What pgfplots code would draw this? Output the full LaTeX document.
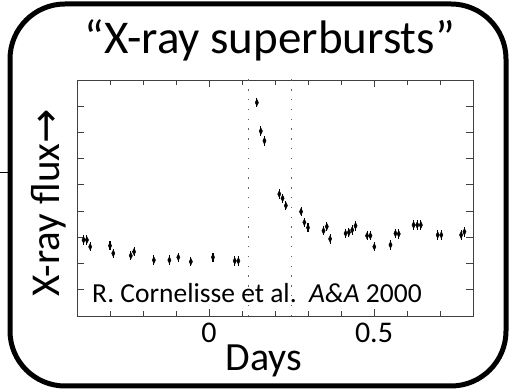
\documentclass[border=0pt]{standalone}
\usepackage{pgfplots}
\pgfplotsset{compat=1.18}
\usepackage{pgfplotstable}
\usepackage{fontspec}
\setmainfont{Carlito}
\newfontfamily\symfont{DejaVu Sans}
\pgfplotstableread{
x y ey
-0.38 2.90 0.18
-0.37 2.90 0.18
-0.36 2.64 0.18
-0.30 2.68 0.18
-0.29 2.39 0.18
-0.237 2.30 0.18
-0.227 2.45 0.18
-0.167 2.13 0.18
-0.12 2.13 0.18
-0.093 2.24 0.18
-0.055 2.07 0.18
0.012 2.24 0.18
0.078 2.10 0.18
0.089 2.10 0.18
0.145 8.14 0.18
0.157 7.05 0.18
0.168 6.68 0.18
0.213 4.65 0.18
0.223 4.49 0.18
0.233 4.21 0.18
0.279 3.98 0.18
0.289 3.57 0.18
0.300 3.37 0.18
0.347 3.25 0.18
0.357 3.41 0.18
0.367 2.94 0.18
0.414 3.15 0.18
0.424 3.19 0.18
0.434 3.28 0.18
0.444 3.44 0.18
0.479 3.06 0.18
0.489 3.06 0.18
0.501 2.64 0.18
0.550 2.71 0.18
0.565 3.15 0.18
0.575 3.13 0.18
0.620 3.47 0.18
0.631 3.47 0.18
0.642 3.47 0.18
0.693 3.09 0.18
0.704 3.09 0.18
0.764 3.09 0.18
0.774 3.21 0.18
}\fluxdata
\begin{document}
\begin{tikzpicture}
\useasboundingbox (0pt,0pt) rectangle (512pt,390pt);
\draw[line width=5pt, rounded corners=55pt] (10pt,4pt) rectangle (506pt,386pt);
\draw[line width=1pt] (0pt,217pt) -- (8pt,217pt);
\begin{axis}[
  at={(77pt,74pt)}, anchor=south west,
  scale only axis, width=396pt, height=236pt,
  xmin=-0.4, xmax=0.8, ymin=0, ymax=9,
  xtick={0,0.5}, xticklabels={0,0.5},
  minor xtick={-0.3,-0.2,-0.1,0.1,0.2,0.3,0.4,0.6,0.7},
  ytick={1,2,3,4,5,6,7,8}, yticklabels={},
  tick align=inside,
  major tick length=7pt, minor tick length=5pt,
  axis line style={black!75, line width=0.9pt},
  every tick/.style={black!75, line width=0.9pt},
  /pgf/number format/assume math mode=true,
  xticklabel style={font=\fontsize{30}{30}\selectfont, inner sep=0pt, yshift=-7pt},
  title={“X-ray superbursts”},
  every axis title/.style={at={(axis description cs:0.487,1.114)}, anchor=base, font=\fontsize{47}{47}\selectfont},
  xlabel={Days},
  every axis x label/.style={at={(axis description cs:0.472,-0.229)}, anchor=base, font=\fontsize{40}{40}\selectfont},
  ylabel={X-ray flux{\symfont →}},
  every axis y label/.style={at={(axis description cs:-0.043,0.479)}, rotate=90, anchor=base, font=\fontsize{41}{41}\selectfont},
  clip=false,
]
\addplot[black!60, line width=1.3pt, dash pattern=on 1.3pt off 8.5pt] coordinates {(0.12,0) (0.12,9.1)};
\addplot[black!60, line width=1.3pt, dash pattern=on 1.3pt off 8.5pt] coordinates {(0.25,0) (0.25,9.1)};
\addplot[only marks, black, mark=diamond*, mark size=2.6pt, mark options={xscale=0.85, yscale=1.3},
  error bars/.cd, y dir=both, y explicit, error mark=none, error bar style={line width=1.1pt}]
  table[x=x, y=y, y error=ey] {\fluxdata};
\node[anchor=base west, inner sep=0pt, font=\fontsize{27.5}{27.5}\selectfont] at (axis description cs:0.038,0.059) {R. Cornelisse et al.\hspace{0.45em}\textit{A\&A} 2000};
\end{axis}
\end{tikzpicture}
\end{document}
